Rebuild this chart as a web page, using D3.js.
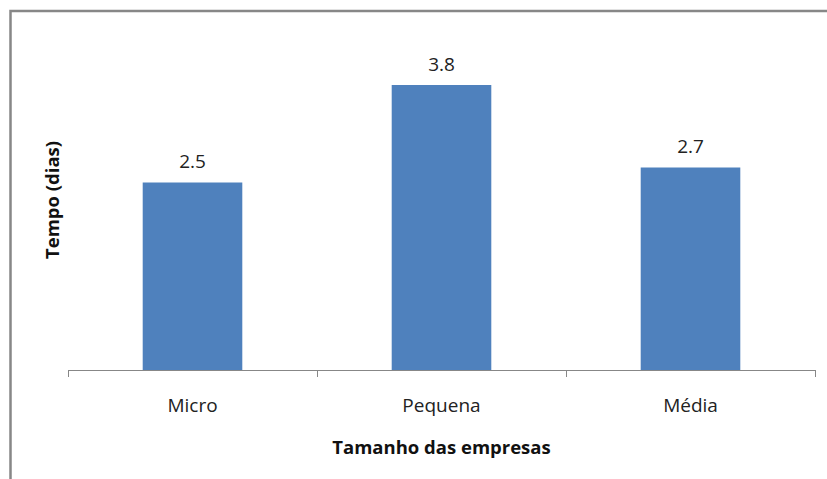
<!DOCTYPE html>
<html>
<head>
<meta charset="utf-8">
<script src="https://cdn.jsdelivr.net/npm/d3@7"></script>
<style>
  html, body { margin: 0; padding: 0; background: #fff; }
  svg { display: block; }
</style>
</head>
<body>
<svg id="chart" width="827" height="479"></svg>
<script>
// Tempo médio (dias) por tamanho de empresa
const categories = ["Micro", "Pequena", "Média"];
const values = [2.5, 3.8, 2.7];
const valueLabels = ["2.5", "3.8", "2.7"];
const xTitle = "Tamanho das empresas";
const yTitle = "Tempo (dias)";

const W = 827, H = 479;
const svg = d3.select("#chart");
const font = "'Open Sans', 'Noto Sans', sans-serif";

// outer frame (top and left edges visible)
svg.append("path")
  .attr("d", `M10.5,${H} V11 H${W}`)
  .attr("fill", "none")
  .attr("stroke", "#878787")
  .attr("stroke-width", 2.5);

const plot = { left: 68, right: 815, base: 370 };

const x = d3.scaleBand()
  .domain(categories)
  .range([plot.left, plot.right])
  .paddingInner(0.6)
  .paddingOuter(0.3);

const y = d3.scaleLinear()
  .domain([0, 4])
  .range([plot.base, plot.base - 300]);

// bars
svg.append("g").selectAll("rect")
  .data(categories)
  .join("rect")
  .attr("x", d => x(d))
  .attr("width", x.bandwidth())
  .attr("y", (d, i) => y(values[i]))
  .attr("height", (d, i) => y(0) - y(values[i]))
  .attr("fill", "#4F81BD");

// value labels
svg.append("g").selectAll("text")
  .data(categories)
  .join("text")
  .attr("x", d => x(d) + x.bandwidth() / 2)
  .attr("y", (d, i) => y(values[i]) - 14.5)
  .attr("text-anchor", "middle")
  .attr("font-family", font)
  .attr("font-size", 19)
  .attr("fill", "#222")
  .text((d, i) => valueLabels[i]);

// category axis: line with ticks between categories
const step = x.step();
const boundaries = d3.range(categories.length + 1).map(i => plot.left + i * step);
const axis = svg.append("g").attr("stroke", "#878787").attr("stroke-width", 1);
axis.append("line")
  .attr("x1", plot.left).attr("x2", plot.right)
  .attr("y1", plot.base + 0.5).attr("y2", plot.base + 0.5);
axis.selectAll("line.tick")
  .data(boundaries)
  .join("line")
  .attr("class", "tick")
  .attr("x1", d => Math.round(d) + 0.5).attr("x2", d => Math.round(d) + 0.5)
  .attr("y1", plot.base).attr("y2", plot.base + 7);

svg.append("g").selectAll("text")
  .data(categories)
  .join("text")
  .attr("x", d => x(d) + x.bandwidth() / 2)
  .attr("y", 411.5)
  .attr("text-anchor", "middle")
  .attr("font-family", font)
  .attr("font-size", 19)
  .attr("fill", "#222")
  .text(d => d);

// axis titles
svg.append("text")
  .attr("x", (plot.left + plot.right) / 2)
  .attr("y", 454)
  .attr("text-anchor", "middle")
  .attr("font-family", font)
  .attr("font-size", 18.5)
  .attr("font-weight", "bold")
  .attr("fill", "#111")
  .text(xTitle);

svg.append("text")
  .attr("transform", "translate(59,200) rotate(-90)")
  .attr("text-anchor", "middle")
  .attr("font-family", font)
  .attr("font-size", 18.5)
  .attr("font-weight", "bold")
  .attr("fill", "#111")
  .text(yTitle);
</script>
</body>
</html>
